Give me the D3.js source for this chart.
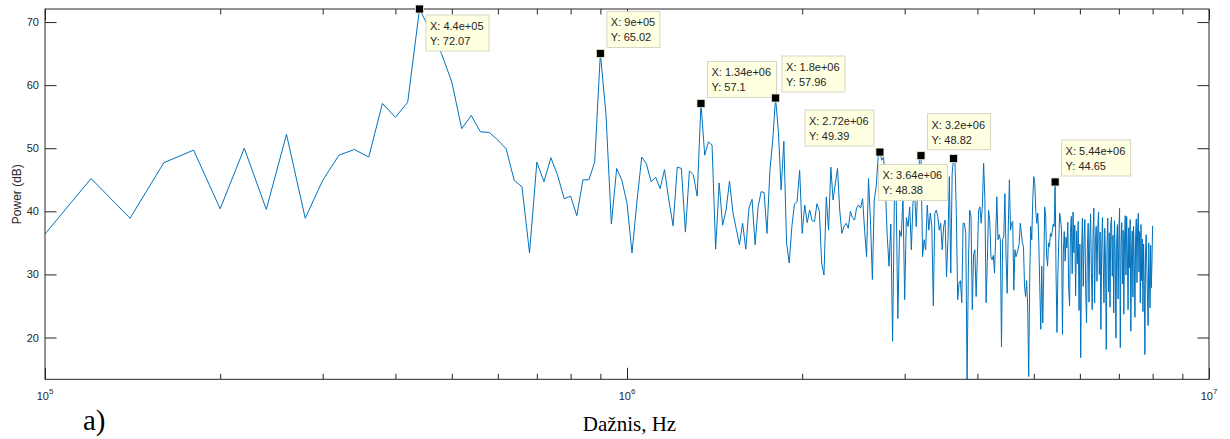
<!DOCTYPE html>
<html>
<head>
<meta charset="utf-8">
<script src="https://cdn.jsdelivr.net/npm/d3@7"></script>
<style>
  html, body { margin: 0; padding: 0; background: #fff; }
  svg { display: block; }
</style>
</head>
<body>
<svg id="chart" width="1230" height="439"></svg>
<script>
// Power spectrum, one value every 20 kHz starting at 100 kHz (FFT bins).
const freqStart = 1e5;
const freqStep = 2e4;

// Power in dB, ten bins per row; first bin of each row noted on the right.
const power = [
  36.4, 45.2, 38.9, 47.7, 49.7, 40.4, 50.0, 40.3, 52.2, 38.9,   // 1.0e5
  44.9, 48.9, 49.8, 48.6, 57.1, 54.9, 57.3, 72.07, 68.5, 65.0,  // 3.0e5
  60.5, 53.1, 55.2, 52.6, 52.5, 51.3, 49.9, 44.9, 43.9, 33.4,   // 5.0e5
  47.8, 44.7, 48.5, 45.7, 42.0, 42.4, 39.3, 45.0, 45.0, 47.8,   // 7.0e5
  65.02, 55.5, 38.0, 46.8, 44.9, 41.3, 33.4, 41.5, 48.6, 47.5,  // 9.0e5
  44.7, 45.4, 43.6, 46.6, 41.8, 37.7, 47.0, 46.8, 36.7, 46.4,   // 1.10e6
  45.8, 42.4, 57.1, 48.9, 51.0, 50.5, 34.0, 44.5, 37.8, 40.2,   // 1.30e6
  44.8, 39.9, 37.3, 34.7, 38.1, 34.0, 40.5, 41.9, 34.7, 40.7,   // 1.50e6
  43.1, 43.0, 36.5, 46.5, 51.3, 57.96, 52.8, 43.4, 51.1, 35.0,  // 1.70e6
  31.8, 37.6, 41.2, 41.5, 46.5, 36.5, 41.0, 38.2, 40.2, 38.5,   // 1.90e6
  38.4, 41.2, 40.1, 31.8, 29.9, 42.3, 37.0, 47.0, 41.8, 44.4,   // 2.10e6
  46.8, 40.2, 36.5, 37.6, 38.1, 37.3, 40.0, 39.0, 38.6, 40.5,   // 2.30e6
  41.0, 40.5, 42.0, 37.0, 32.8, 45.2, 38.5, 29.2, 41.8, 43.9,   // 2.50e6
  48.4, 49.39, 48.1, 48.6, 43.4, 36.0, 31.3, 38.0, 19.4, 41.8,  // 2.70e6
  43.4, 23.0, 37.0, 36.0, 42.3, 26.0, 39.0, 37.6, 40.7, 33.9,   // 2.90e6
  41.3, 43.4, 37.6, 43.9, 48.1, 48.82, 32.8, 35.5, 33.9, 41.0,  // 3.10e6
  37.0, 39.7, 37.6, 25.0, 39.7, 40.2, 39.2, 37.0, 38.1, 33.9,   // 3.30e6
  37.6, 38.6, 29.6, 35.5, 45.5, 30.2, 46.0, 48.38, 48.1, 39.7,  // 3.50e6
  26.0, 28.6, 29.0, 25.5, 38.1, 38.1, 36.5, 13.37, 31.3, 40.2,  // 3.70e6
  39.2, 24.4, 33.2, 33.9, 26.5, 33.0, 40.2, 40.7, 38.1, 41.0,   // 3.90e6
  47.6, 42.0, 25.5, 32.0, 40.2, 38.6, 32.8, 32.3, 33.0, 30.2,   // 4.10e6
  36.0, 42.3, 35.5, 36.3, 35.5, 18.5, 35.5, 36.0, 42.8, 33.0,   // 4.30e6
  27.0, 37.6, 45.0, 37.0, 38.1, 38.4, 27.5, 33.9, 32.8, 33.4,   // 4.50e6
  34.0, 35.0, 38.1, 36.5, 35.0, 34.4, 28.1, 26.5, 29.0, 25.0,   // 4.70e6
  13.8, 29.7, 37.6, 35.5, 42.0, 45.5, 44.4, 40.0, 38.1, 39.7,   // 4.90e6
  35.0, 28.0, 21.3, 31.3, 22.3, 30.0, 40.7, 39.2, 33.0, 31.3,   // 5.10e6
  35.0, 34.4, 36.5, 36.0, 37.0, 38.0, 37.6, 44.65, 30.2, 20.8,  // 5.30e6
  30.0, 35.5, 39.7, 38.6, 37.0, 20.5, 33.5, 36.8, 32.1, 35.9,   // 5.50e6
  34.2, 38.3, 27.8, 25.0, 36.6, 39.2, 30.1, 39.9, 33.4, 37.8,   // 5.70e6
  26.6, 36.9, 31.7, 38.4, 24.3, 34.8, 16.8, 33.2, 38.9, 28.1,   // 5.90e6
  35.4, 38.7, 27.2, 22.3, 33.9, 38.1, 25.6, 35.8, 39.6, 30.3,   // 6.10e6
  24.4, 36.2, 40.5, 25.5, 35.1, 37.6, 28.9, 37.4, 39.9, 30.0,   // 6.30e6
  36.7, 21.3, 33.6, 39.0, 31.9, 25.5, 37.3, 32.1, 18.1, 34.7,   // 6.50e6
  38.9, 27.2, 36.6, 24.8, 37.8, 39.1, 29.7, 36.2, 23.9, 38.5,   // 6.70e6
  32.8, 19.9, 35.3, 37.9, 26.1, 36.4, 40.5, 18.4, 34.6, 38.2,   // 6.90e6
  28.5, 37.0, 23.7, 35.8, 39.3, 29.9, 39.2, 33.5, 24.4, 37.4,   // 7.10e6
  31.0, 38.7, 21.0, 33.2, 36.9, 26.4, 37.6, 32.5, 23.2, 36.1,   // 7.30e6
  38.8, 28.7, 37.2, 39.7, 30.4, 36.8, 25.5, 37.9, 29.0, 35.6,   // 7.50e6
  24.1, 34.8, 28.6, 17.3, 33.5, 36.3, 31.1, 26.0, 21.9, 35.0,   // 7.70e6
  29.4, 24.7, 34.6, 27.9, 31.8, 37.7                            // 7.90e6
];

// Data tips: bin frequency and where the tip box sits relative to the point.
const tipFreq = [4.4e5, 9e5, 1.34e6, 1.8e6, 2.72e6, 3.2e6, 3.64e6, 5.44e6];
const tipPlace = ["se", "ne", "ne", "ne", "nw", "ne", "sw", "ne"];

// Axis ticks
const yTicks = [20, 30, 40, 50, 60, 70];
const xMajorTicks = [1e5, 1e6, 1e7];
const xMinorTicks = [2e5, 3e5, 4e5, 5e5, 6e5, 7e5, 8e5, 9e5,
                     2e6, 3e6, 4e6, 5e6, 6e6, 7e6, 8e6, 9e6];
const xTickExponents = [5, 6, 7];

const xLabel = "Dažnis, Hz";
const yLabel = "Power (dB)";
const panelLabel = "a)";

// ---------------------------------------------------------------
const svg = d3.select("#chart");
const W = 1230, H = 439;
const plot = { left: 45, right: 1209, top: 9, bottom: 379.3 };
const axisColor = "#262626";
const sans = "'Liberation Sans', Arial, Helvetica, sans-serif";
const serif = "'Liberation Serif', 'Times New Roman', serif";

svg.append("rect").attr("width", W).attr("height", H).attr("fill", "#fff");

const series = power.map((p, i) => ({ f: freqStart + i * freqStep, p }));

const x = d3.scaleLog().domain([1e5, 1e7]).range([plot.left, plot.right]);
const y = d3.scaleLinear().domain(d3.extent(power)).range([plot.bottom, plot.top]);

// clip for the spectrum line
svg.append("defs").append("clipPath").attr("id", "plotClip")
  .append("rect")
  .attr("x", plot.left).attr("y", plot.top - 1)
  .attr("width", plot.right - plot.left)
  .attr("height", plot.bottom - plot.top + 2);

// spectrum
const line = d3.line().x(d => x(d.f)).y(d => y(d.p));
svg.append("path")
  .datum(series)
  .attr("clip-path", "url(#plotClip)")
  .attr("fill", "none")
  .attr("stroke", "#0072BD")
  .attr("stroke-width", 1)
  .attr("stroke-linejoin", "round")
  .attr("d", line);

// axes with inward ticks on all four sides
function styleAxis(g) {
  g.select(".domain").remove();
  g.selectAll(".tick line").attr("stroke", axisColor).attr("stroke-width", 1);
  g.selectAll(".tick text").attr("fill", axisColor)
    .style("font-family", sans).style("font-size", "11px");
}

const majorLen = 11.5, minorLen = 5.5;

svg.append("g").attr("transform", `translate(0,${plot.bottom})`)
  .call(d3.axisBottom(x).tickValues(xMajorTicks).tickSize(-majorLen).tickFormat(""))
  .call(styleAxis);
svg.append("g").attr("transform", `translate(0,${plot.bottom})`)
  .call(d3.axisBottom(x).tickValues(xMinorTicks).tickSize(-minorLen).tickFormat(""))
  .call(styleAxis);
svg.append("g").attr("transform", `translate(0,${plot.top})`)
  .call(d3.axisTop(x).tickValues(xMajorTicks).tickSize(-majorLen).tickFormat(""))
  .call(styleAxis);
svg.append("g").attr("transform", `translate(0,${plot.top})`)
  .call(d3.axisTop(x).tickValues(xMinorTicks).tickSize(-minorLen).tickFormat(""))
  .call(styleAxis);

svg.append("g").attr("transform", `translate(${plot.left},0)`)
  .call(d3.axisLeft(y).tickValues(yTicks).tickSize(-majorLen).tickPadding(6))
  .call(styleAxis);
svg.append("g").attr("transform", `translate(${plot.right},0)`)
  .call(d3.axisRight(y).tickValues(yTicks).tickSize(-majorLen).tickFormat(""))
  .call(styleAxis);

// frame
svg.append("rect")
  .attr("x", plot.left).attr("y", plot.top)
  .attr("width", plot.right - plot.left)
  .attr("height", plot.bottom - plot.top)
  .attr("fill", "none")
  .attr("stroke", axisColor)
  .attr("stroke-width", 1);

// x tick labels 10^n
const xl = svg.append("g");
xMajorTicks.forEach((t, i) => {
  const txt = xl.append("text")
    .attr("x", x(t)).attr("y", 400)
    .attr("text-anchor", "middle")
    .attr("fill", axisColor)
    .style("font-family", sans).style("font-size", "11px");
  txt.append("tspan").text("10");
  txt.append("tspan").attr("dy", -6).style("font-size", "8px").text(xTickExponents[i]);
});

// axis titles
svg.append("text")
  .attr("x", 629.5).attr("y", 431)
  .attr("text-anchor", "middle")
  .attr("fill", "#000")
  .style("font-family", serif).style("font-size", "21px")
  .text(xLabel);

svg.append("text")
  .attr("transform", `translate(21,${(plot.top + plot.bottom) / 2}) rotate(-90)`)
  .attr("text-anchor", "middle")
  .attr("fill", axisColor)
  .style("font-family", sans).style("font-size", "12px")
  .text(yLabel);

svg.append("text")
  .attr("x", 83).attr("y", 430)
  .attr("fill", "#000")
  .style("font-family", serif).style("font-size", "29px")
  .text(panelLabel);

// data tips
function fmtX(v) {
  const s = v.toExponential();
  return s.replace(/e([+-])(\d)$/, "e$10$2");
}
const fmtY = d3.format(".4~g");

const tips = svg.append("g");
tipFreq.forEach((f, i) => {
  const d = series[Math.round((f - freqStart) / freqStep)];
  const mx = x(d.f), my = y(d.p);
  const g = tips.append("g");
  const lines = ["X: " + fmtX(d.f), "Y: " + fmtY(d.p)];

  const box = g.append("rect")
    .attr("fill", "#ffffe1")
    .attr("stroke", "#d6d6c4")
    .attr("stroke-width", 1);
  const t = g.append("text")
    .attr("fill", axisColor)
    .style("font-family", sans).style("font-size", "11px");
  lines.forEach((s, k) => t.append("tspan").attr("x", 0).attr("y", 15 + 15 * k).text(s));

  let tw = 0;
  t.selectAll("tspan").each(function () { tw = Math.max(tw, this.getComputedTextLength()); });
  const bw = Math.round(tw + 9), bh = 36;
  const place = tipPlace[i];
  const bx = place.includes("e") ? mx + 6.5 : mx - 6 - bw;
  const by = place.includes("s") ? my + 6 : my - 6 - bh;
  box.attr("x", bx).attr("y", by).attr("width", bw).attr("height", bh);
  t.attr("transform", `translate(${bx + 4},${by})`);

  g.append("rect")
    .attr("x", mx - 4).attr("y", my - 4)
    .attr("width", 8).attr("height", 8)
    .attr("fill", "#000")
    .attr("stroke", "#efefc8")
    .attr("stroke-width", 0.8);
});
</script>
</body>
</html>
